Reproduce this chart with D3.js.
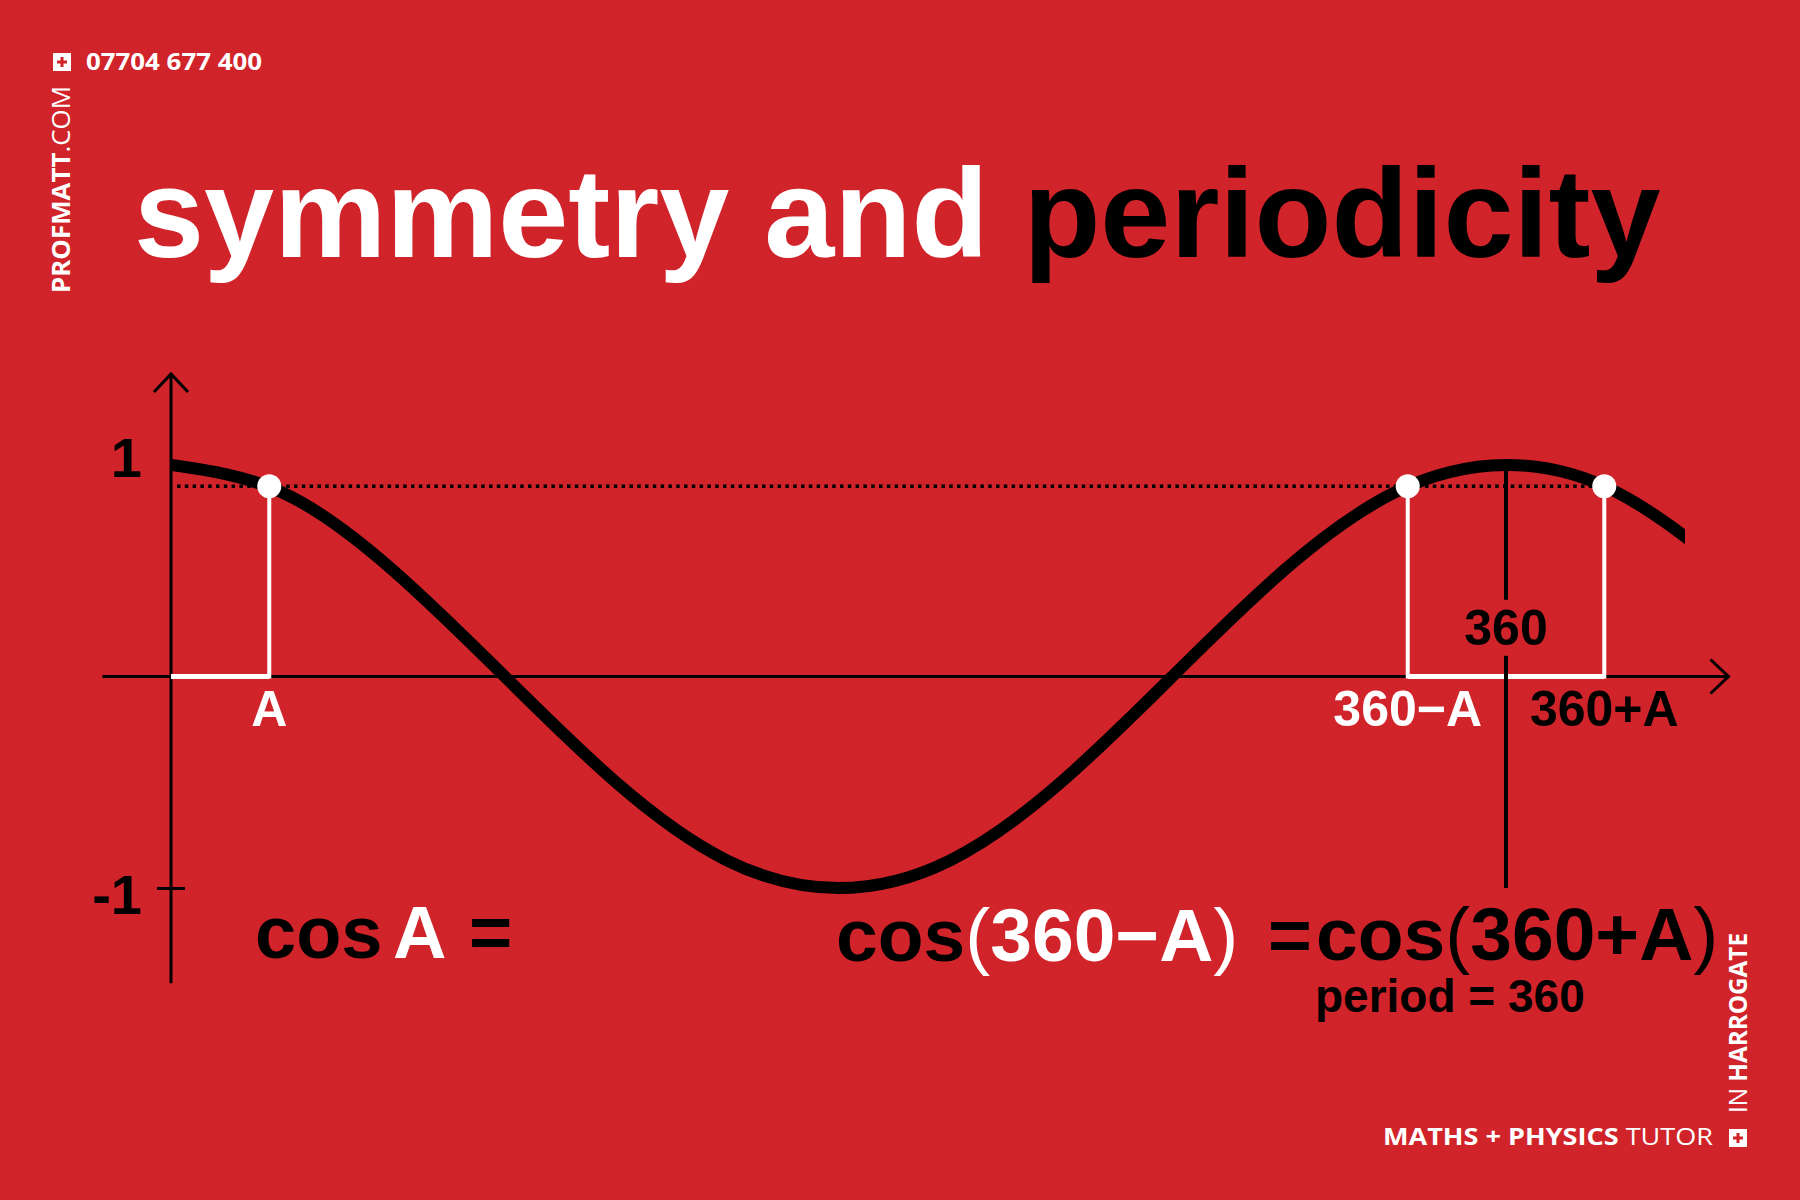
<!DOCTYPE html>
<html><head><meta charset="utf-8">
<script src="https://cdn.jsdelivr.net/npm/d3@7"></script>
<style>html,body{margin:0;padding:0;background:#d1232a;overflow:hidden}</style>
</head><body>
<svg id="c" width="1800" height="1200"></svg>
<script>
// ---------- data ----------
const curveAngles = [0, 30, 60, 90, 120, 150, 180, 210, 240, 270, 300, 330, 360, 390, 420];
const curveValues = [1, 0.87, 0.5, 0, -0.5, -0.87, -1, -0.87, -0.5, 0, 0.5, 0.87, 1, 0.87, 0.5];
const curveEndAngle = 408.3;
const angleA = 26.5;
const valueA = 0.9;
const pointAngles = [angleA, 360 - angleA, 360 + angleA];
const xTickLabels = ["A", "360\u2212A", "360+A"];
const xTickColors = ["#ffffff", "#ffffff", "#000000"];
const yTickValues = [1, -1];
const yTickLabels = ["1", "-1"];
const periodAngle = 360;
const periodLabel = "360";
const xAxisExtent = [-18.5, 420];
const yAxisExtent = [-1.45, 1.43];
const titleParts = ["symmetry and ", "periodicity"];

const RED = "#d1232a";
const svg = d3.select("#c");
svg.append("rect").attr("width", 1800).attr("height", 1200).attr("fill", RED);

// ---------- scales ----------
const x = d3.scaleLinear().domain([0, 360]).range([171, 1506]);
const y = d3.scaleLinear().domain([-1, 1]).range([888, 465]);
const F = "'Liberation Sans', Arial, Helvetica, sans-serif";
const B = "'Open Sans', Lato, sans-serif";

// ---------- title ----------
const t = svg.append("text").attr("x", 134).attr("y", 257)
  .attr("font-family", F).attr("font-weight", 700).attr("font-size", 126);
t.append("tspan").attr("fill", "#fff").text(titleParts[0]);
t.append("tspan").attr("fill", "#000").text(titleParts[1]);

// ---------- axes ----------
const g = svg.append("g");
g.append("line").attr("x1", x(xAxisExtent[0])).attr("x2", x(xAxisExtent[1]))
  .attr("y1", y(0)).attr("y2", y(0)).attr("stroke", "#000").attr("stroke-width", 3);
const xt = x(xAxisExtent[1]);
g.append("path").attr("d", `M${xt-18},${y(0)-17}L${xt},${y(0)}L${xt-18},${y(0)+17}`)
  .attr("fill", "none").attr("stroke", "#000").attr("stroke-width", 3);
g.append("line").attr("x1", x(0)).attr("x2", x(0))
  .attr("y1", y(yAxisExtent[0])).attr("y2", y(yAxisExtent[1])).attr("stroke", "#000").attr("stroke-width", 3);
const yt = y(yAxisExtent[1]);
g.append("path").attr("d", `M${x(0)-17},${yt+18}L${x(0)},${yt}L${x(0)+17},${yt+18}`)
  .attr("fill", "none").attr("stroke", "#000").attr("stroke-width", 3);

const yAxis = d3.axisLeft(y).tickValues(yTickValues).tickSize(14).tickPadding(15)
  .tickFormat((d, i) => yTickLabels[i]);
const ya = svg.append("g").attr("transform", `translate(${x(0)},0)`).call(yAxis);
ya.select(".domain").remove();
ya.selectAll("text").attr("font-family", F).attr("font-size", 56).attr("font-weight", 700)
  .attr("fill", "#000").attr("dy", (d) => d === 1 ? "0.2em" : "0.45em");
ya.selectAll("line").attr("stroke", "#000").attr("stroke-width", 3)
  .attr("x2", -14).attr("x1", 14)
  .attr("display", (d) => d === 1 ? "none" : null);

// ---------- white segments on x axis ----------
const segs = [[0, pointAngles[0]], [pointAngles[1], pointAngles[2]]];
svg.selectAll(".seg").data(segs).join("line").attr("class", "seg")
  .attr("x1", d => x(d[0])).attr("x2", d => x(d[1]))
  .attr("y1", y(0)).attr("y2", y(0)).attr("stroke", "#fff").attr("stroke-width", 5);
svg.selectAll(".drop").data(pointAngles).join("line").attr("class", "drop")
  .attr("x1", d => x(d)).attr("x2", d => x(d))
  .attr("y1", y(valueA)).attr("y2", y(0) + 2).attr("stroke", "#fff").attr("stroke-width", 4);

// dotted line
svg.append("line").attr("x1", x(0) + 6).attr("x2", x(pointAngles[2]))
  .attr("y1", y(valueA)).attr("y2", y(valueA))
  .attr("stroke", "#000").attr("stroke-width", 3.5).attr("stroke-dasharray", "3.5 4.3");

// ---------- curve ----------
svg.append("clipPath").attr("id", "cc").append("rect")
  .attr("x", x(0)).attr("y", 0).attr("width", x(curveEndAngle) - x(0)).attr("height", 1200);
const pts = curveAngles.map((a, i) => [a, curveValues[i]]);
svg.append("path").attr("clip-path", "url(#cc)")
  .attr("d", d3.line().x(d => x(d[0])).y(d => y(d[1])).curve(d3.curveNatural)(pts))
  .attr("fill", "none").attr("stroke", "#000").attr("stroke-width", 12);

// ---------- period line with label ----------
svg.append("line").attr("x1", x(periodAngle)).attr("x2", x(periodAngle))
  .attr("y1", y(1)).attr("y2", y(-1.0)).attr("stroke", "#000").attr("stroke-width", 4);
const pl = svg.append("text").attr("x", x(periodAngle)).attr("y", y(0.15))
  .attr("text-anchor", "middle").attr("font-family", F).attr("font-weight", 700)
  .attr("font-size", 50).attr("fill", "#000").text(periodLabel);
const bb = pl.node().getBBox();
svg.insert("rect", () => pl.node()).attr("x", bb.x).attr("y", bb.y)
  .attr("width", bb.width).attr("height", bb.height).attr("fill", RED);

// ---------- points ----------
svg.selectAll(".pt").data(pointAngles).join("circle").attr("class", "pt")
  .attr("cx", d => x(d)).attr("cy", y(valueA)).attr("r", 12).attr("fill", "#fff");

// ---------- x labels ----------
svg.selectAll(".xl").data(pointAngles).join("text").attr("class", "xl")
  .attr("x", d => x(d)).attr("y", 726).attr("text-anchor", "middle")
  .attr("font-family", F).attr("font-weight", 700).attr("font-size", 50)
  .attr("fill", (d, i) => xTickColors[i]).text((d, i) => xTickLabels[i]);

// ---------- formulas ----------
function ft(xp, yp, size) {
  return svg.append("text").attr("x", xp).attr("y", yp).attr("font-family", F)
    .attr("font-weight", 700).attr("font-size", size);
}
const f1 = ft(255, 958, 74);
f1.append("tspan").attr("fill", "#000").text("cos");
f1.append("tspan").attr("x", 393).attr("fill", "#fff").text("A");
f1.append("tspan").attr("x", 469).attr("fill", "#000").text("=");
const f2 = ft(836, 961, 75);
f2.append("tspan").attr("fill", "#000").text("cos");
f2.append("tspan").attr("fill", "#fff").attr("font-weight", 400).text("(");
f2.append("tspan").attr("fill", "#fff").text("360\u2212A");
f2.append("tspan").attr("fill", "#fff").attr("font-weight", 400).text(")");
ft(1268, 961, 75).attr("fill", "#000").text("=");
const f3 = ft(1316, 960, 75).attr("fill", "#000");
f3.append("tspan").text("cos");
f3.append("tspan").attr("font-weight", 400).text("(");
f3.append("tspan").text("360+A");
f3.append("tspan").attr("font-weight", 400).text(")");
ft(1315, 1012, 46).attr("fill", "#000").text("period = 360");

// ---------- branding ----------
function icon(px, py) {
  svg.append("rect").attr("x", px).attr("y", py).attr("width", 18).attr("height", 18).attr("fill", "#fff");
  svg.append("rect").attr("x", px + 4).attr("y", py + 7.5).attr("width", 10).attr("height", 3).attr("fill", RED);
  svg.append("rect").attr("x", px + 7.5).attr("y", py + 4).attr("width", 3).attr("height", 10).attr("fill", RED);
}
icon(53, 53);
icon(1729, 1129);
svg.append("text").attr("x", 86).attr("y", 70).attr("font-family", B).attr("font-weight", 700)
  .attr("font-size", 24).attr("fill", "#fff").attr("textLength", 176).attr("lengthAdjust", "spacingAndGlyphs")
  .text("07704 677 400");
const pm = svg.append("text").attr("transform", "translate(70,293) rotate(-90)")
  .attr("font-family", B).attr("font-size", 25).attr("fill", "#fff")
  .attr("textLength", 207).attr("lengthAdjust", "spacingAndGlyphs");
pm.append("tspan").attr("font-weight", 700).text("PROFMATT");
pm.append("tspan").attr("font-weight", 400).text(".COM");
const mp = svg.append("text").attr("x", 1383).attr("y", 1145)
  .attr("font-family", B).attr("font-size", 23).attr("fill", "#fff")
  .attr("textLength", 330).attr("lengthAdjust", "spacingAndGlyphs");
mp.append("tspan").attr("font-weight", 700).text("MATHS + PHYSICS ");
mp.append("tspan").attr("font-weight", 400).text("TUTOR");
const ih = svg.append("text").attr("transform", "translate(1747,1113) rotate(-90)")
  .attr("font-family", B).attr("font-size", 25).attr("fill", "#fff")
  .attr("textLength", 180).attr("lengthAdjust", "spacingAndGlyphs");
ih.append("tspan").attr("font-weight", 400).text("IN ");
ih.append("tspan").attr("font-weight", 700).text("HARROGATE");
</script>
</body></html>
